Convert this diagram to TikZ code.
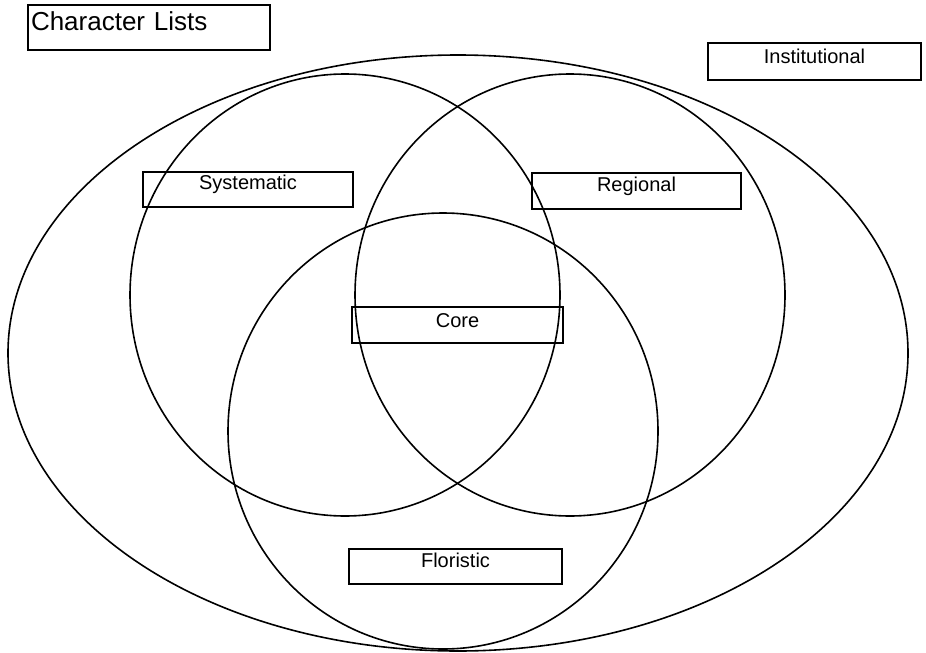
\documentclass[tikz,border=0pt]{standalone}
\usepackage{fontspec}
\setmainfont{Liberation Sans}
\begin{document}
\begin{tikzpicture}[x=1pt,y=-1pt,
  ring/.style={draw=black, line width=1.6pt},
  lbl/.style={draw=black, line width=1.1pt, inner xsep=0pt, inner ysep=0pt,
    font=\fontsize{20}{24}\selectfont},
]
\useasboundingbox (0,0) rectangle (926,653);
% outer ellipse and three circles
\draw[ring] (458,353) ellipse [x radius=450, y radius=298];
\draw[ring] (345,295) ellipse [x radius=215, y radius=221];
\draw[ring] (570,295) ellipse [x radius=215, y radius=221];
\draw[ring] (443,431) ellipse [x radius=215, y radius=218];
% labels
\node[lbl, inner xsep=3pt, text width=236pt, align=left, text height=25pt, text depth=20pt,
  font=\fontsize{26}{31}\selectfont] (title) at (149,27.5) {Character Lists};
\node[lbl, minimum width=213pt, text height=20pt, text depth=17pt] (inst) at (814.5,61.5) {Institutional};
\node[lbl, minimum width=210pt, text height=17.5pt, text depth=17.5pt] (sys) at (248,189.5) {Systematic};
\node[lbl, minimum width=209pt, text height=18.5pt, text depth=17.5pt] (reg) at (636.5,191) {Regional};
\node[lbl, minimum width=211pt, text height=20pt, text depth=16pt] (core) at (457.5,325) {Core};
\node[lbl, minimum width=213pt, text height=18pt, text depth=17pt] (flor) at (455.5,566.5) {Floristic};
\end{tikzpicture}
\end{document}
